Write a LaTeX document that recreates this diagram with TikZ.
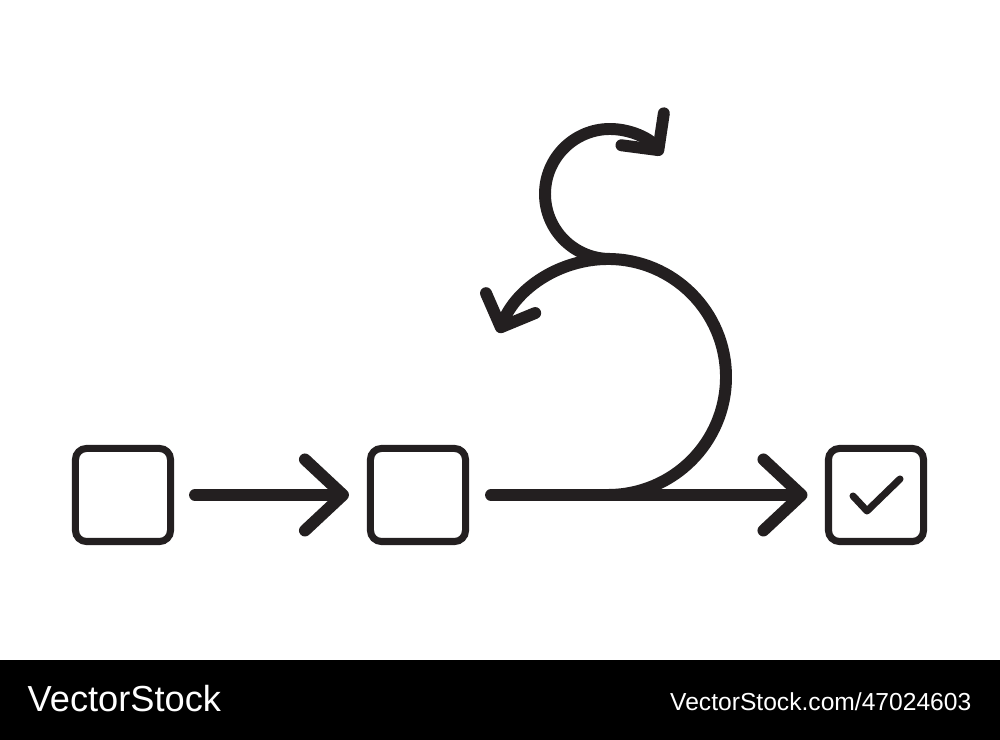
\documentclass[tikz,border=0pt]{standalone}
\usepackage{fontspec}
\setmainfont{Liberation Sans}
\usetikzlibrary{arrows.meta,positioning,calc}
\definecolor{ink}{RGB}{35,31,32}

\begin{document}
\begin{tikzpicture}[
    x=0.01cm, y=0.01cm,
    box/.style={rectangle, draw=ink, line width=2pt, rounded corners=1.1mm,
                minimum width=0.95cm, minimum height=0.93cm, inner sep=0pt},
    flow/.style={draw=ink, line width=3.4pt, line cap=round, line join=round},
    bighead/.style={-{Straight Barb[length=3.8mm, width=7.1mm, round]}},
    smallhead/.style={-{Straight Barb[length=2.6mm, width=5.3mm, round]}},
    tick/.style={draw=ink, line width=2pt, line cap=round, line join=round},
    brand/.style={text=white, inner sep=0pt}
]
    \useasboundingbox (0,0) rectangle (1000,740);
    \fill[white] (0,0) rectangle (1000,740);

    % Boxes
    \node[box] (start) at (123,245) {};
    \node[box] (middle) at (418,245) {};
    \node[box] (finish) at (876,245) {};

    % Check mark
    \draw[tick] ([shift={(-23,-1)}]finish.center) -- ++(14,-15) -- ++(33,32);

    % Arrows
    \draw[flow, bighead, shorten <=2.1mm, shorten >=1.8mm] (start.east) -- (middle.west);
    \draw[flow, bighead, shorten <=2.2mm, shorten >=1.75mm] (middle.east) -- (finish.west);

    % Loop
    \coordinate (loop) at (608,245);
    \coordinate (twist) at (610,481);
    \draw[flow, smallhead] (loop) arc[start angle=-90, end angle=158, radius=118];
    \draw[flow, smallhead] (twist) arc[start angle=270, end angle=37, radius=65];

    % Bottom bar
    \fill[black] (0,0) rectangle (1000,80);
    \node[brand, anchor=base west, font=\fontsize{10.3}{12}\selectfont] (logo) at (27,28) {VectorStock};
    \node[brand, anchor=base east, font=\fontsize{7}{8}\selectfont] (imageid) at (972,29) {VectorStock.com/47024603};
\end{tikzpicture}
\end{document}
